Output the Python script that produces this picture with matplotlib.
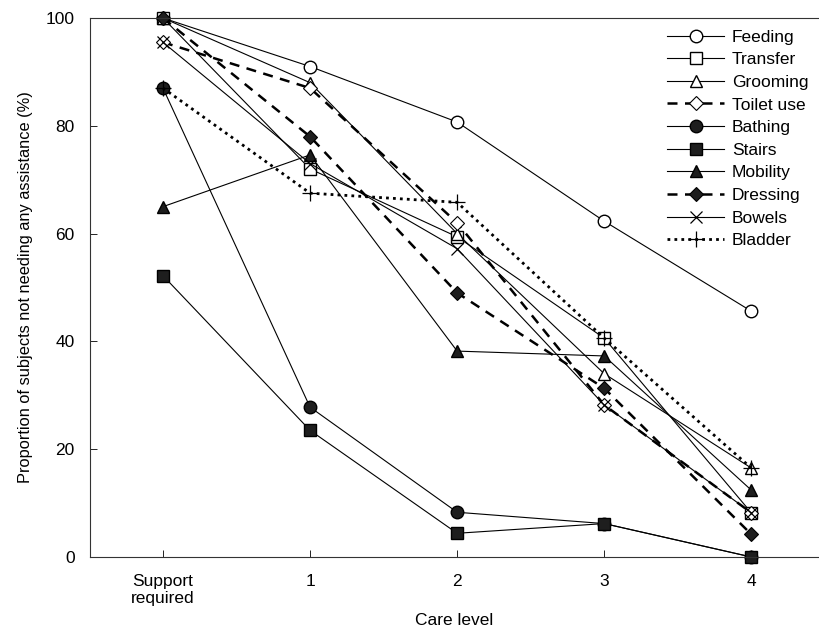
import matplotlib
matplotlib.use("Agg")
import matplotlib.pyplot as plt

plt.rcParams['font.family'] = ['Liberation Sans', 'DejaVu Sans']

categories = ["Support\nrequired", "1", "2", "3", "4"]
feeding = [100, 91, 80.7, 62.3, 45.6]
transfer = [100, 72, 59.4, 40.6, 8.2]
grooming = [100, 88, 60, 34, 16.5]
toilet_use = [95.5, 87, 62, 28.2, 8.2]
bathing = [87, 27.8, 8.3, 6.2, 0]
stairs = [52.2, 23.5, 4.4, 6.2, 0]
mobility = [65, 74.6, 38.2, 37.3, 12.4]
dressing = [100, 78, 49, 31.3, 4.2]
bowels = [95.5, 73, 57.2, 28.2, 8.2]
bladder = [87, 67.5, 65.8, 40.6, 16.5]

series = [
    ("Feeding", feeding, dict(ls='-', lw=0.8, marker='o', mfc='white', ms=9)),
    ("Transfer", transfer, dict(ls='-', lw=0.8, marker='s', mfc='white', ms=9)),
    ("Grooming", grooming, dict(ls='-', lw=0.8, marker='^', mfc='white', ms=9)),
    ("Toilet use", toilet_use, dict(ls=(0, (4, 3)), lw=1.8, marker='D', mfc='white', ms=7.5, mew=0.8)),
    ("Bathing", bathing, dict(ls='-', lw=0.8, marker='o', mfc='#1e1e1e', ms=9)),
    ("Stairs", stairs, dict(ls='-', lw=0.8, marker='s', mfc='#1e1e1e', ms=9)),
    ("Mobility", mobility, dict(ls='-', lw=0.8, marker='^', mfc='#1e1e1e', ms=9)),
    ("Dressing", dressing, dict(ls=(0, (4, 3)), lw=1.8, marker='D', mfc='#1e1e1e', ms=7.5, mew=0.8)),
    ("Bowels", bowels, dict(ls='-', lw=0.8, marker='x', ms=9, mew=0.9)),
    ("Bladder", bladder, dict(ls=(0, (1, 1.5)), lw=2.0, marker='+', ms=11, mew=0.9)),
]

fig = plt.figure(figsize=(8.19, 6.39), dpi=100)
ax = fig.add_axes([90/819, 1-557/639, 1-90/819, (557-18)/639])

xs = list(range(len(categories)))
for name, vals, st in series:
    ax.plot(xs, vals, color='black', mec='black', label=name, clip_on=False, **st)

ax.set_xlim(-0.496, 4.46)
ax.set_ylim(0, 100)
ax.set_xticks(xs)
ax.set_xticklabels(categories)
ax.set_yticks([0, 20, 40, 60, 80, 100])
ax.tick_params(axis='both', direction='in', length=5, width=0.6, labelsize=12.5)
ax.tick_params(axis='x', pad=12)
ax.tick_params(axis='y', pad=11)
for s in ['left', 'bottom', 'top']:
    ax.spines[s].set_linewidth(0.8)
    ax.spines[s].set_color('#333333')
ax.spines['right'].set_visible(False)

ax.set_xlabel("Care level", fontsize=12.5, labelpad=5)
ax.set_ylabel("Proportion of subjects not needing any assistance (%)", fontsize=11.8, labelpad=9)

leg = ax.legend(loc='upper right', bbox_to_anchor=(1.0, 0.998), frameon=False, fontsize=12.5,
                handlelength=3.3, handletextpad=0.45, labelspacing=0.43, borderaxespad=0.2)

fig.savefig("out.png", dpi=100)
